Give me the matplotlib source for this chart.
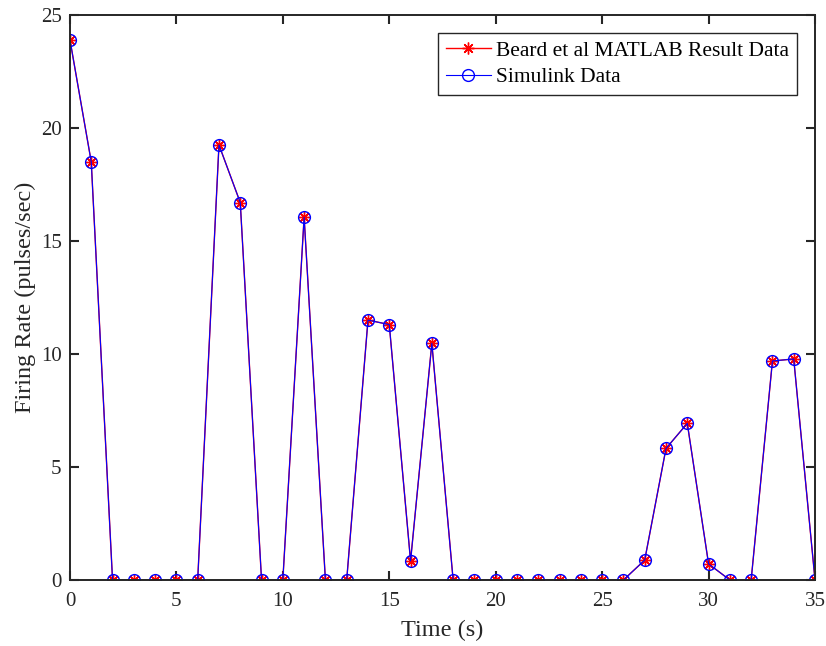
import matplotlib
matplotlib.use("Agg")
import matplotlib.pyplot as plt

time_s = list(range(36))
beard = [23.9, 18.5, 0, 0, 0, 0, 0, 19.25, 16.7, 0, 0, 16.05, 0, 0, 11.5, 11.3,
         0.84, 10.47, 0, 0, 0, 0, 0, 0, 0, 0, 0, 0.88, 5.82, 6.93, 0.71, 0, 0,
         9.69, 9.78, 0]
simulink = list(beard)

plt.rcParams['font.family'] = ['Liberation Serif', 'DejaVu Serif']
fig = plt.figure(figsize=(8.26, 6.46), dpi=100)
ax = fig.add_axes([0.0847, 0.1022, 0.902, 0.8746])

ax.plot(time_s, beard, color='red', marker=(8, 2, 0), markersize=8.5, markeredgewidth=1.0,
        linewidth=1, label='Beard et al MATLAB Result Data')
ax.plot(time_s, simulink, color='blue', marker='o', markersize=8.5, markerfacecolor='none',
        markeredgewidth=1.0, linewidth=0.8, label='Simulink Data')

ax.set_xlim(0, 35)
ax.set_ylim(0, 25)
ax.set_xticks(range(0, 36, 5))
ax.set_yticks(range(0, 26, 5))
ax.tick_params(direction='in', top=True, right=True, labelsize=15, length=6.5, width=1.5,
               colors='#262626')
ax.tick_params(axis='x', pad=9)
ax.tick_params(axis='y', pad=6)
for s in ax.spines.values():
    s.set_linewidth(1.4)
    s.set_color('#262626')
ax.set_xlabel('Time (s)', fontsize=17.5, color='#262626', labelpad=6)
ax.set_ylabel('Firing Rate (pulses/sec)', fontsize=17.5, color='#262626', labelpad=3.5)
leg = ax.legend(loc='upper right', fontsize=15.5, fancybox=False, edgecolor='#262626',
                framealpha=1, borderaxespad=0.85, handlelength=2.1, handletextpad=0.25,
                labelspacing=0.3, borderpad=0.35)
leg.get_frame().set_linewidth(1.0)

fig.savefig('out.png', dpi=100)
